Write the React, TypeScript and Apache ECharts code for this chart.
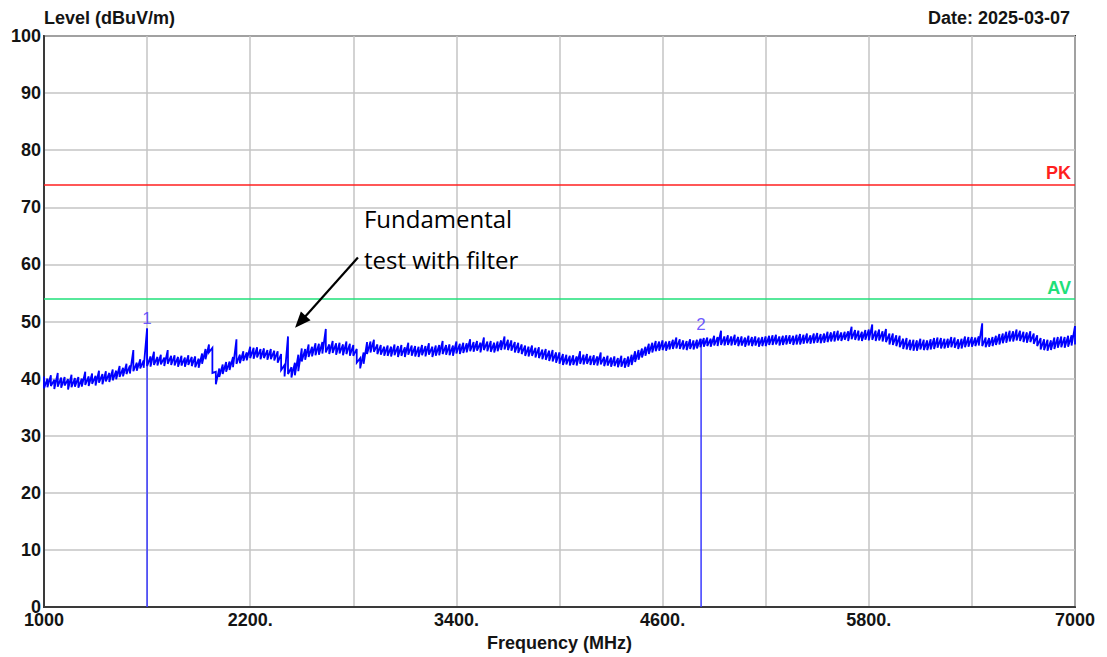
import React, { useEffect, useRef } from "react";
import * as echarts from "echarts";

// ---- data ----
const FREQ_START = 1000; // MHz, first trace bin
const FREQ_STEP = 20; // MHz per trace bin
// max / min detected level (dBuV/m) in each 20 MHz bin
const TRACE_MAX = [
  40.4, 40.0, 40.6, 39.8, 41.0, 40.2, 40.3, 39.9, 40.7, 40.1,
  40.3, 40.0, 41.2, 40.4, 40.9, 40.5, 41.4, 40.8, 41.3, 41.0,
  41.6, 41.4, 42.2, 41.9, 42.6, 42.3, 45.0, 42.8, 43.4, 43.2,
  48.8, 43.9, 44.7, 43.8, 44.2, 43.7, 45.0, 44.0, 44.1, 43.8,
  44.0, 43.7, 44.1, 43.8, 43.9, 43.5, 44.4, 45.2, 46.0, 45.4,
  41.2, 41.8, 42.5, 42.9, 43.0, 43.8, 46.9, 44.2, 44.8, 44.6,
  45.6, 45.4, 45.5, 45.2, 45.3, 45.0, 45.2, 44.9, 44.8, 44.3,
  42.4, 47.4, 42.0, 42.8, 44.2, 45.3, 45.2, 46.0, 45.6, 46.2,
  46.1, 46.4, 48.7, 46.0, 46.6, 46.2, 46.3, 46.0, 46.5, 46.1,
  45.9, 45.2, 43.6, 44.6, 46.4, 46.5, 46.8, 46.0, 45.9, 45.6,
  45.8, 45.6, 46.0, 45.7, 45.9, 45.5, 46.3, 45.8, 45.7, 45.6,
  45.9, 45.7, 46.2, 45.6, 45.8, 45.9, 46.6, 45.9, 46.0, 45.8,
  46.5, 46.1, 46.3, 46.2, 46.9, 46.4, 46.6, 46.3, 47.2, 46.5,
  46.6, 46.3, 46.5, 46.7, 47.4, 46.8, 46.7, 46.4, 46.3, 46.0,
  45.8, 45.6, 45.8, 45.4, 45.5, 45.1, 45.2, 44.9, 45.0, 44.6,
  44.6, 44.3, 44.2, 44.0, 44.1, 43.9, 44.8, 44.2, 44.3, 44.0,
  44.1, 43.9, 44.6, 43.8, 44.0, 43.7, 43.9, 43.6, 44.0, 43.6,
  43.9, 44.2, 44.8, 45.0, 45.3, 45.6, 46.1, 46.3, 46.6, 46.5,
  46.7, 46.5, 46.6, 46.8, 47.2, 46.9, 46.7, 46.6, 46.9, 46.7,
  46.8, 47.0, 47.1, 47.2, 47.0, 47.5, 47.3, 48.4, 47.4, 47.6,
  47.4, 47.7, 47.3, 47.4, 47.2, 47.5, 47.3, 47.4, 47.2, 47.3,
  47.4, 47.5, 47.6, 47.7, 47.4, 47.5, 47.6, 47.6, 47.5, 47.7,
  47.8, 47.7, 47.9, 47.6, 47.9, 48.0, 47.8, 47.9, 48.2, 48.1,
  48.3, 48.4, 48.1, 48.2, 48.3, 49.1, 48.5, 48.4, 48.2, 48.5,
  48.6, 49.5, 48.4, 48.6, 48.3, 48.7, 47.9, 47.9, 47.6, 47.5,
  47.0, 47.1, 46.8, 46.8, 46.7, 47.0, 46.8, 46.7, 46.9, 47.1,
  47.2, 47.1, 47.0, 47.0, 47.3, 47.2, 46.9, 47.0, 47.4, 47.3,
  47.3, 47.2, 47.4, 49.7, 47.2, 47.1, 47.3, 47.5, 47.8, 47.9,
  48.2, 48.4, 48.3, 48.6, 48.4, 48.2, 48.1, 48.3, 47.9, 47.6,
  47.1, 46.9, 46.8, 46.7, 47.2, 47.3, 47.4, 47.3, 47.5, 47.6,
  49.2,
];
const TRACE_MIN = [
  38.3, 38.5, 38.7, 38.2, 38.6, 38.4, 38.8, 38.1, 38.5, 38.6,
  38.4, 38.6, 38.9, 38.7, 39.1, 38.8, 39.3, 39.0, 39.5, 39.4,
  39.7, 39.9, 40.3, 40.4, 40.8, 40.9, 41.3, 41.4, 41.8, 41.9,
  42.2, 42.1, 42.4, 42.3, 42.5, 42.2, 42.6, 42.4, 42.3, 42.1,
  42.3, 42.1, 42.4, 42.2, 42.0, 41.9, 42.6, 43.4, 44.6, 41.0,
  39.0, 40.3, 40.8, 41.2, 41.5, 42.0, 42.6, 42.7, 43.1, 43.2,
  43.6, 43.5, 43.7, 43.4, 43.6, 43.3, 43.4, 43.2, 42.8, 41.5,
  40.4, 40.8, 40.2, 40.6, 41.3, 43.0, 43.3, 43.8, 43.9, 44.1,
  44.2, 44.4, 44.6, 44.3, 44.5, 44.2, 44.4, 44.1, 44.3, 44.0,
  44.0, 42.8, 41.8, 42.6, 44.3, 44.6, 44.7, 44.3, 44.2, 44.0,
  44.0, 43.9, 44.1, 43.8, 44.0, 43.8, 44.2, 44.0, 43.9, 43.8,
  44.1, 43.9, 44.2, 43.8, 44.0, 44.1, 44.3, 44.2, 44.1, 44.0,
  44.4, 44.3, 44.5, 44.6, 44.8, 44.7, 44.9, 44.6, 45.0, 44.8,
  44.7, 44.6, 44.8, 45.0, 45.1, 45.0, 44.9, 44.6, 44.5, 44.3,
  44.0, 43.9, 44.0, 43.7, 43.6, 43.4, 43.3, 43.1, 43.0, 42.8,
  42.6, 42.4, 42.5, 42.3, 42.4, 42.3, 42.6, 42.5, 42.6, 42.4,
  42.4, 42.3, 42.5, 42.2, 42.3, 42.1, 42.2, 42.0, 42.1, 41.9,
  42.1, 42.4, 42.9, 43.3, 43.7, 44.0, 44.3, 44.6, 44.8, 44.9,
  45.0, 44.9, 45.1, 45.2, 45.3, 45.2, 45.1, 45.0, 45.2, 45.1,
  45.3, 45.5, 45.6, 45.7, 45.6, 45.8, 45.7, 45.9, 45.8, 45.9,
  45.8, 45.9, 45.7, 45.8, 45.6, 45.8, 45.7, 45.8, 45.6, 45.7,
  45.7, 45.9, 45.9, 46.0, 45.8, 45.9, 46.0, 46.1, 45.9, 46.0,
  46.0, 46.1, 46.2, 46.1, 46.2, 46.3, 46.2, 46.3, 46.4, 46.5,
  46.5, 46.7, 46.6, 46.8, 46.6, 46.9, 46.8, 46.7, 46.6, 46.8,
  46.7, 46.8, 46.6, 46.7, 46.5, 46.4, 46.0, 45.9, 45.7, 45.5,
  45.2, 45.1, 45.0, 44.9, 44.9, 45.1, 45.0, 45.0, 45.1, 45.2,
  45.4, 45.3, 45.3, 45.4, 45.5, 45.4, 45.2, 45.3, 45.5, 45.6,
  45.6, 45.7, 45.8, 45.7, 45.5, 45.6, 45.7, 45.9, 46.0, 46.2,
  46.3, 46.5, 46.5, 46.7, 46.6, 46.4, 46.3, 46.4, 46.1, 45.7,
  45.1, 45.0, 44.9, 45.0, 45.2, 45.4, 45.5, 45.4, 45.6, 45.8,
  46.0,
];

const X_MIN = 1000;
const X_MAX = 7000;
const X_GRID_STEP = 600;
const X_LABEL_VALUES = [1000, 2200, 3400, 4600, 5800, 7000];
const X_LABEL_TEXTS = ["1000", "2200.", "3400.", "4600.", "5800.", "7000"];

const Y_MIN = 0;
const Y_MAX = 100;
const Y_STEP = 10;

const MARKER_NAMES = ["1", "2"];
const MARKER_FREQS = [1600, 4824];
const MARKER_LEVELS = [48.8, 47.0];

const LIMIT_NAMES = ["PK", "AV"];
const LIMIT_LEVELS = [74, 54];
const LIMIT_COLORS = ["#ff1f1f", "#1fe07a"];

const ANNOT_TEXT = ["Fundamental", "test with filter"];
const ANNOT_TIP = [2461, 48.9];
const ANNOT_TAIL = [2827, 61.2];

const DATE_TEXT = "Date: 2025-03-07";
const Y_NAME = "Level (dBuV/m)";
const X_NAME = "Frequency (MHz)";

const FONT = "'Liberation Sans', Arial, sans-serif";
const TEXT_COLOR = "#141414";

export default function App() {
  const ref = useRef<HTMLDivElement>(null);

  useEffect(() => {
    if (!ref.current) return;
    const chart = echarts.init(ref.current, undefined, { renderer: "svg" });

    // each bin drawn as a vertical max-to-min stroke, then on to the next bin's max
    const trace: number[][] = [];
    TRACE_MAX.forEach((hi, i) => {
      const f = FREQ_START + i * FREQ_STEP;
      trace.push([f, hi], [f, TRACE_MIN[i]]);
    });

    const markerSeries = MARKER_FREQS.map((f, i) => ({
      type: "line",
      name: "marker" + MARKER_NAMES[i],
      data: [
        [f, Y_MIN],
        [f, MARKER_LEVELS[i]],
      ],
      symbol: "none",
      silent: true,
      lineStyle: { color: "#3a3aff", width: 1.5 },
      z: 3,
    }));

    const option: any = {
      animation: false,
      backgroundColor: "#ffffff",
      textStyle: { fontFamily: FONT },
      title: [
        {
          text: DATE_TEXT,
          right: 32,
          top: 4,
          textStyle: { fontFamily: FONT, fontSize: 18, fontWeight: "bold", color: TEXT_COLOR },
        },
      ],
      grid: {
        left: 44,
        right: 32,
        top: 36,
        bottom: 49,
        containLabel: false,
        show: true,
        borderColor: "#3a3a3a",
        borderWidth: 2,
      },
      xAxis: {
        type: "value",
        min: X_MIN,
        max: X_MAX,
        interval: X_GRID_STEP,
        name: X_NAME,
        nameLocation: "middle",
        nameGap: 24,
        nameTextStyle: { fontFamily: FONT, fontSize: 18, fontWeight: "bold", color: TEXT_COLOR },
        axisLine: { show: true, lineStyle: { color: "#3a3a3a", width: 2 } },
        axisTick: { show: false },
        axisLabel: {
          show: true,
          margin: 4,
          showMinLabel: true,
          showMaxLabel: true,
          fontFamily: FONT,
          fontSize: 18,
          fontWeight: "bold",
          color: TEXT_COLOR,
          formatter: (v: number) => {
            const k = X_LABEL_VALUES.indexOf(Math.round(v));
            return k >= 0 ? X_LABEL_TEXTS[k] : "";
          },
        },
        splitLine: { show: true, lineStyle: { color: "#c4c4c4", width: 1.5 } },
      },
      yAxis: {
        type: "value",
        min: Y_MIN,
        max: Y_MAX,
        interval: Y_STEP,
        name: Y_NAME,
        nameLocation: "end",
        nameGap: 4,
        nameTextStyle: {
          fontFamily: FONT,
          fontSize: 18,
          fontWeight: "bold",
          color: TEXT_COLOR,
          align: "left",
          verticalAlign: "bottom",
        },
        axisLine: { show: true, lineStyle: { color: "#3a3a3a", width: 2 } },
        axisTick: { show: false },
        axisLabel: {
          margin: 3,
          fontFamily: FONT,
          fontSize: 18,
          fontWeight: "bold",
          color: TEXT_COLOR,
        },
        splitLine: { show: true, lineStyle: { color: "#c4c4c4", width: 1.5 } },
      },
      series: [
        {
          type: "line",
          name: "limits",
          data: [],
          symbol: "none",
          silent: true,
          markLine: {
            silent: true,
            symbol: "none",
            animation: false,
            data: LIMIT_LEVELS.map((lv, i) => ({
              yAxis: lv,
              name: LIMIT_NAMES[i],
              lineStyle: { color: LIMIT_COLORS[i], width: 1.5, type: "solid" },
              label: {
                show: true,
                position: "insideEndTop",
                formatter: "{b}",
                color: LIMIT_COLORS[i],
                fontFamily: FONT,
                fontSize: 18,
                fontWeight: "bold",
                distance: [4, 2],
              },
            })),
          },
          z: 2,
        },
        {
          type: "line",
          name: "trace",
          data: trace,
          symbol: "none",
          silent: true,
          lineStyle: { color: "#0000ff", width: 1.8, join: "miter" },
          z: 4,
        },
        ...markerSeries,
        {
          type: "scatter",
          name: "markerLabels",
          data: MARKER_FREQS.map((f, i) => ({
            value: [f, MARKER_LEVELS[i], MARKER_NAMES[i]],
            label: { distance: i === 0 ? 1 : 5 },
          })),
          symbol: "circle",
          symbolSize: 1,
          itemStyle: { color: "rgba(0,0,0,0)" },
          silent: true,
          label: {
            show: true,
            position: "top",
            distance: 1,
            formatter: (p: any) => p.value[2],
            color: "#4a30ff",
            fontFamily: FONT,
            fontSize: 17,
          },
          z: 5,
        },
      ],
    };

    chart.setOption(option);

    const tip = chart.convertToPixel({ gridIndex: 0 }, ANNOT_TIP) as number[];
    const tail = chart.convertToPixel({ gridIndex: 0 }, ANNOT_TAIL) as number[];
    const dx = tip[0] - tail[0];
    const dy = tip[1] - tail[1];
    const len = Math.sqrt(dx * dx + dy * dy);
    const ux = dx / len;
    const uy = dy / len;
    const nx = -uy;
    const ny = ux;
    const headL = 16;
    const headW = 6.5;
    const baseX = tip[0] - ux * headL;
    const baseY = tip[1] - uy * headL;

    chart.setOption({
      graphic: [
        {
          type: "line",
          silent: true,
          shape: { x1: tail[0], y1: tail[1], x2: baseX + ux * 2, y2: baseY + uy * 2 },
          style: { stroke: "#000", lineWidth: 2.2 },
          z: 10,
        },
        {
          type: "polygon",
          silent: true,
          shape: {
            points: [
              [tip[0], tip[1]],
              [baseX + nx * headW, baseY + ny * headW],
              [baseX - nx * headW, baseY - ny * headW],
            ],
          },
          style: { fill: "#000" },
          z: 10,
        },
        {
          type: "text",
          silent: true,
          x: tail[0] + 6,
          y: tail[1] - 39,
          style: {
            text: ANNOT_TEXT[0],
            fontFamily: "'Open Sans', sans-serif",
            fontSize: 24,
            fill: "#000",
            align: "left",
            verticalAlign: "middle",
          },
          z: 10,
        },
        {
          type: "text",
          silent: true,
          x: tail[0] + 6,
          y: tail[1] + 2,
          style: {
            text: ANNOT_TEXT[1],
            fontFamily: "'Open Sans', sans-serif",
            fontSize: 24,
            fill: "#000",
            align: "left",
            verticalAlign: "middle",
          },
          z: 10,
        },
      ],
    });

    return () => chart.dispose();
  }, []);

  return (
    <div
      ref={ref}
      style={{ position: "fixed", left: 0, top: 0, width: 1107, height: 657, background: "#fff" }}
    />
  );
}
